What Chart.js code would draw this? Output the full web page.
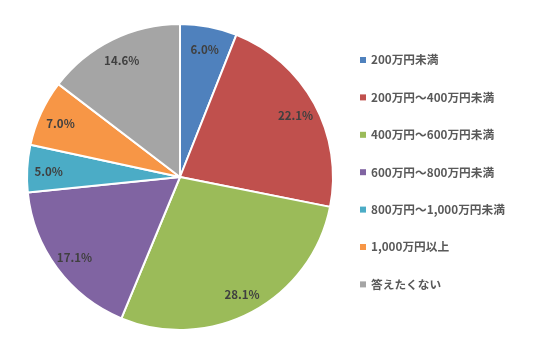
<!DOCTYPE html>
<html>
<head>
<meta charset="utf-8">
<script src="https://cdn.jsdelivr.net/npm/chart.js@4"></script>
<style>
  html, body { margin: 0; padding: 0; background: #fff; }
  #wrap { width: 542px; height: 353px; position: relative; }
</style>
</head>
<body>
<div id="wrap"><canvas id="pieChart"></canvas></div>
<script>
// 世帯年収の分布
const labels = [
    '200万円未満', '200万円～400万円未満', '400万円～600万円未満',
    '600万円～800万円未満', '800万円～1,000万円未満', '1,000万円以上', '答えたくない'
];
const values = [6.0, 22.1, 28.1, 17.1, 5.0, 7.0, 14.6];
const sliceColors = ['#4F81BD', '#C0504D', '#9BBB59', '#8064A2', '#4BACC6', '#F79646', '#A5A5A5'];

const fontFamily = '"Noto Sans CJK JP", "Noto Sans", sans-serif';

// スライス内のパーセント表示
const sliceLabels = {
    id: 'sliceLabels',
    afterDatasetsDraw(chart) {
        const ctx = chart.ctx;
        const meta = chart.getDatasetMeta(0);
        ctx.save();
        ctx.font = 'bold 11.5px ' + fontFamily;
        ctx.fillStyle = '#404040';
        ctx.textAlign = 'center';
        ctx.textBaseline = 'middle';
        meta.data.forEach((arc, i) => {
            const p = arc.getProps(['x', 'y', 'startAngle', 'endAngle', 'outerRadius'], true);
            const mid = (p.startAngle + p.endAngle) / 2;
            const r = p.outerRadius * 0.86;
            ctx.fillText(values[i].toFixed(1) + '%', p.x + Math.cos(mid) * r, p.y + Math.sin(mid) * r + 2);
        });
        ctx.restore();
    }
};

// 右側の凡例
const sideLegend = {
    id: 'sideLegend',
    afterDraw(chart) {
        const ctx = chart.ctx;
        ctx.save();
        ctx.font = 'bold 11.7px ' + fontFamily;
        ctx.textBaseline = 'middle';
        labels.forEach((label, i) => {
            const y = 60 + i * 37.4;
            ctx.fillStyle = sliceColors[i];
            ctx.fillRect(360, y - 3, 6, 6);
            ctx.fillStyle = '#595959';
            ctx.fillText(label, 371, y);
        });
        ctx.restore();
    }
};

new Chart(document.getElementById('pieChart').getContext('2d'), {
    type: 'pie',
    data: {
        labels: labels,
        datasets: [{
            data: values,
            backgroundColor: sliceColors,
            borderColor: '#ffffff',
            borderWidth: 2
        }]
    },
    options: {
        responsive: true,
        maintainAspectRatio: false,
        animation: false,
        layout: { padding: { left: 26, top: 23, right: 208, bottom: 22 } },
        plugins: {
            legend: { display: false },
            tooltip: { enabled: false }
        }
    },
    plugins: [sliceLabels, sideLegend]
});
</script>
</body>
</html>
